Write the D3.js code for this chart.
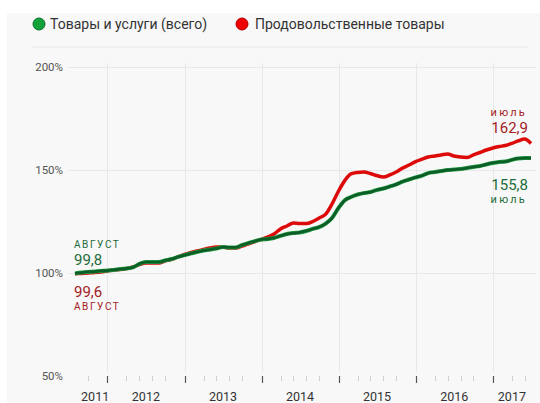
<!DOCTYPE html>
<html><head><meta charset="utf-8">
<script src="https://cdn.jsdelivr.net/npm/d3@7"></script>
<style>
html,body{margin:0;padding:0;background:#fff;}
svg{display:block;font-family:Roboto,"Noto Sans",sans-serif;}
</style></head>
<body>
<svg id="c" width="540" height="403"></svg>
<script>
// ---- data ----
const startMonth = "2011-08";
const endMonth = "2017-07";
const seriesNames = ["Товары и услуги (всего)", "Продовольственные товары"];
const totalValues = [99.8,100.2,100.5,100.7,101.0,101.2,101.5,101.9,102.2,102.7,104.4,105.3,
  105.3,105.3,106.1,106.8,107.8,108.7,109.5,110.2,110.9,111.4,111.9,112.6,
  112.4,112.4,113.6,114.6,115.5,116.3,116.5,117.0,118.0,118.9,119.4,119.7,
  120.4,121.4,122.3,124.0,126.7,131.6,135.4,136.9,138.1,138.8,139.3,140.3,
  141.0,142.0,143.0,144.4,145.4,146.4,147.3,148.5,149.0,149.5,150.0,150.2,
  150.5,151.0,151.5,151.9,152.7,153.4,153.9,154.1,154.9,155.6,155.8,155.8];
const foodValues = [99.6,99.8,100.0,100.2,100.5,101.0,101.5,101.7,102.2,102.9,104.1,104.9,
  104.9,104.9,105.8,106.6,107.8,109.0,110.0,110.7,111.4,112.1,112.6,112.6,
  112.1,112.1,113.1,114.1,115.3,116.3,117.5,118.9,121.4,122.8,124.3,124.0,
  124.0,125.0,126.7,128.6,133.5,139.8,145.1,148.1,148.8,149.0,148.3,147.3,
  146.6,147.6,149.0,151.0,152.4,154.1,155.3,156.3,156.8,157.3,157.8,156.8,
  156.3,156.1,157.3,158.5,159.7,160.7,161.4,161.9,162.9,164.1,165.0,162.9];
const yTicks = [50, 100, 150, 200];
const yGrid = [100, 150, 200];
const yearLabels = ["2011","2012","2013","2014","2015","2016","2017"];
const minorTickMonths = [3, 5, 7, 9]; // Apr, Jun, Aug, Oct
const startLabel = "АВГУСТ";
const endLabel = "июль";

// ---- setup ----
const svg = d3.select("#c");
const parse = d3.timeParse("%Y-%m");
const t0 = parse(startMonth), t1 = parse(endMonth);
const months = d3.timeMonth.range(t0, d3.timeMonth.offset(t1, 1));

const x = d3.scaleTime().domain([t0, t1]).range([75, 531]);
const y = d3.scaleLinear().domain([50, 200]).range([376, 67]);

const GREEN_D = "#0b5e28", GREEN_L = "#27a043", RED = "#dd0a0a";
const GREEN_T = "#1d6b3a", RED_T = "#a3201f";

// panel background
svg.append("rect").attr("x", 7).attr("y", 13).attr("width", 533).attr("height", 390).attr("fill", "#f8f8f8");

// legend
const legend = [
  {name: seriesNames[0], color: "#0fa33a", stroke: "#0b6b28", cx: 39, tx: 50},
  {name: seriesNames[1], color: "#ee0000", stroke: "#b00000", cx: 242, tx: 255}
];
legend.forEach(l => {
  svg.append("circle").attr("cx", l.cx).attr("cy", 24).attr("r", 6)
    .attr("fill", l.color).attr("stroke", l.stroke).attr("stroke-width", 1);
  svg.append("text").attr("x", l.tx).attr("y", 29).attr("font-size", 14)
    .attr("fill", "#333").text(l.name);
});
svg.append("line").attr("x1", 32).attr("x2", 528).attr("y1", 47).attr("y2", 47)
  .attr("stroke", "#e6e6e6").attr("stroke-width", 1);

// year boundaries
const yearStarts = d3.timeYear.range(d3.timeYear.ceil(t0), t1);
svg.append("g").selectAll("line").data(yearStarts).join("line")
  .attr("x1", d => Math.round(x(d)) + 0.5).attr("x2", d => Math.round(x(d)) + 0.5)
  .attr("y1", 63).attr("y2", 372)
  .attr("stroke", "#e8e8e8").attr("stroke-width", 1);

// horizontal grid
svg.append("g").selectAll("line").data(yGrid).join("line")
  .attr("x1", 68).attr("x2", 536)
  .attr("y1", d => Math.round(y(d)) + 0.5).attr("y2", d => Math.round(y(d)) + 0.5)
  .attr("stroke", "#e8e8e8").attr("stroke-width", 1);

// y labels
svg.append("g").selectAll("text").data(yTicks).join("text")
  .attr("x", 63).attr("y", d => y(d)).attr("dy", "0.35em")
  .attr("text-anchor", "end").attr("font-size", 11.5).attr("fill", "#555")
  .text(d => d + "%");

// x ticks
svg.append("g").selectAll("line").data(yearStarts).join("line")
  .attr("x1", d => Math.round(x(d)) + 0.5).attr("x2", d => Math.round(x(d)) + 0.5)
  .attr("y1", 376).attr("y2", 383).attr("stroke", "#555").attr("stroke-width", 1.2);
const minorTicks = months.filter(m => minorTickMonths.includes(m.getMonth()) && m > t0);
svg.append("g").selectAll("line").data(minorTicks).join("line")
  .attr("x1", d => Math.round(x(d)) + 0.5).attr("x2", d => Math.round(x(d)) + 0.5)
  .attr("y1", 376).attr("y2", 381).attr("stroke", "#cfcfcf").attr("stroke-width", 1);

// year labels centered on visible interval
svg.append("g").selectAll("text").data(yearLabels).join("text")
  .attr("x", d => {
    const a = d3.max([t0, new Date(+d, 0, 1)]);
    const b = d3.min([t1, new Date(+d + 1, 0, 1)]);
    return (x(a) + x(b)) / 2 + (d === yearLabels[0] ? 4 : 0);
  })
  .attr("y", 401).attr("text-anchor", "middle").attr("font-size", 12.5).attr("fill", "#333")
  .text(d => d);

// lines
const line = d3.line().x((d, i) => x(months[i])).y(d => y(d)).curve(d3.curveMonotoneX);
svg.append("path").datum(foodValues).attr("d", line)
  .attr("fill", "none").attr("stroke", RED).attr("stroke-width", 3.5).attr("stroke-linejoin", "round");
svg.append("path").datum(totalValues).attr("d", line)
  .attr("fill", "none").attr("stroke", GREEN_L).attr("stroke-width", 4).attr("stroke-linejoin", "round");
svg.append("path").datum(totalValues).attr("d", line)
  .attr("fill", "none").attr("stroke", GREEN_D).attr("stroke-width", 2.8).attr("stroke-linejoin", "round");

// annotations
const fmt = v => d3.format(".1f")(v).replace(".", ",");
const ann = [
  {t: startLabel, x: 74, y: 244, anchor: "start", size: 10, ls: 1.6, c: GREEN_T},
  {t: fmt(totalValues[0]), x: 74, y: 260, anchor: "start", size: 15, ls: 0, c: GREEN_T},
  {t: fmt(foodValues[0]), x: 74, y: 292, anchor: "start", size: 15, ls: 0, c: RED_T},
  {t: startLabel, x: 74, y: 306, anchor: "start", size: 10, ls: 1.6, c: RED_T},
  {t: endLabel, x: 527, y: 112, anchor: "end", size: 11, ls: 2.2, c: RED_T},
  {t: fmt(foodValues[foodValues.length - 1]), x: 528, y: 128, anchor: "end", size: 15, ls: 0, c: RED_T},
  {t: fmt(totalValues[totalValues.length - 1]), x: 528, y: 185, anchor: "end", size: 15, ls: 0, c: GREEN_T},
  {t: endLabel, x: 527, y: 199, anchor: "end", size: 11, ls: 2.2, c: GREEN_T}
];
svg.append("g").selectAll("text").data(ann).join("text")
  .attr("x", d => d.x).attr("y", d => d.y).attr("dy", "0.35em")
  .attr("text-anchor", d => d.anchor).attr("font-size", d => d.size)
  .attr("letter-spacing", d => d.ls).attr("fill", d => d.c).text(d => d.t);
</script>
</body></html>
